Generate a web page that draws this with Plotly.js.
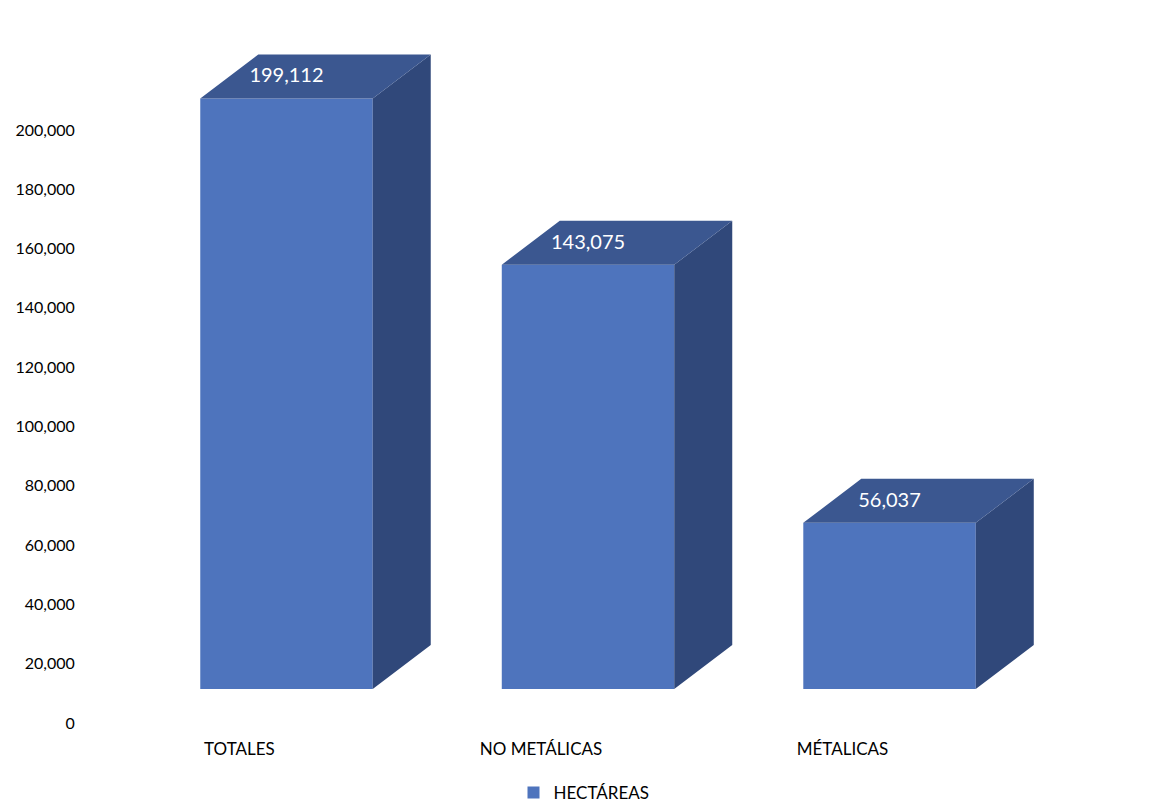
<!DOCTYPE html>
<html><head><meta charset="utf-8">
<script src="https://cdn.plot.ly/plotly-3.0.1.min.js"></script>
<style>html,body{margin:0;padding:0;background:#fff}</style></head>
<body><div id="chart" style="width:1174px;height:806px"></div>
<script>
const categories = ["TOTALES", "NO METÁLICAS", "MÉTALICAS"];
const hectareas = [199112, 143075, 56037];
const yTicks = [0, 20000, 40000, 60000, 80000, 100000, 120000, 140000, 160000, 180000, 200000];
const seriesName = "HECTÁREAS";

const colFront = "#4E74BD", colTop = "#3B5790", colSide = "#30487A";
const FONT = "Lato, 'Open Sans', sans-serif";

// 3D look expressed in axis units
const barW = 0.572, depthX = 0.1924, depthY = 14840, lift = 11467, labelShift = 0.156;
const xs = categories.map((_, i) => i);

let sideX = [], sideY = [], topX = [], topY = [];
hectareas.forEach((v, i) => {
  const l = i - barW / 2, r = i + barW / 2, t = lift + v;
  sideX.push(r, r + depthX, r + depthX, r, r, null);
  sideY.push(t, t + depthY, lift + depthY, lift, t, null);
  topX.push(l, l + depthX, r + depthX, r, l, null);
  topY.push(t, t + depthY, t + depthY, t, t, null);
});
const poly = (x, y, c) => ({type:"scatter", mode:"lines", x, y, fill:"toself", fillcolor:c,
  line:{width:0, color:c}, showlegend:false, hoverinfo:"skip"});

const data = [
  poly(sideX, sideY, colSide),
  poly(topX, topY, colTop),
  {type:"bar", name:seriesName, x:xs, y:hectareas, base:lift, width:barW,
   marker:{color:colFront, line:{width:0}}, showlegend:true},
  {type:"scatter", mode:"text", x:xs, y:hectareas.map(v => lift + v + depthY / 2 - 300),
   text:hectareas.map(v => v.toLocaleString("en-US")), textposition:"middle center",
   textfont:{family:FONT, size:20, color:"#fff"}, showlegend:false, hoverinfo:"skip"}
];
const layout = {
  width:1174, height:806,
  margin:{l:84, r:90, t:41, b:83, pad:0},
  paper_bgcolor:"#fff", plot_bgcolor:"#fff",
  font:{family:FONT, color:"#000", size:16},
  showlegend:true,
  legend:{orientation:"h", x:0.5, xanchor:"center", yref:"container", y:0.0161, yanchor:"middle",
          font:{family:FONT, size:17, color:"#000"}},
  xaxis:{range:[-0.6716, 2.645], tickmode:"array", tickvals:xs.map(i => i - labelShift), ticktext:categories,
         showgrid:false, zeroline:false, showline:false, ticks:"outside", ticklen:11,
         tickcolor:"rgba(0,0,0,0)", tickfont:{family:FONT, size:17, color:"#000"}},
  yaxis:{range:[0, 230000], tickmode:"array", tickvals:yTicks, tickformat:",",
         showgrid:false, zeroline:false, showline:false, ticks:"outside", ticklen:5,
         tickcolor:"rgba(0,0,0,0)", tickfont:{family:FONT, size:16, color:"#000"}}
};
Plotly.newPlot("chart", data, layout, {displayModeBar:false, responsive:false});
</script></body></html>
